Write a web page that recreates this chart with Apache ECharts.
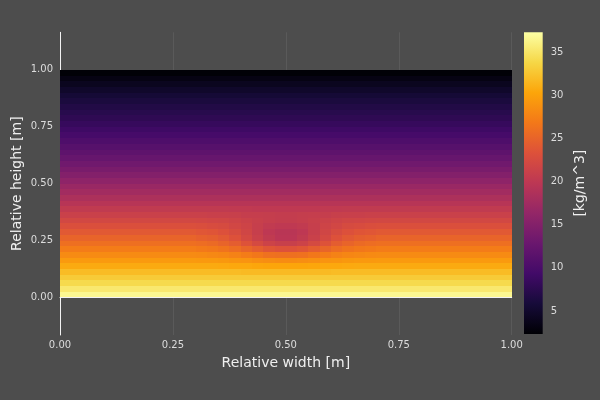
<!DOCTYPE html>
<html>
<head>
<meta charset="utf-8">
<script src="https://cdn.jsdelivr.net/npm/echarts@6/dist/echarts.min.js"></script>
<style>
html,body{margin:0;padding:0;background:#4d4d4d;}
#chart{width:600px;height:400px;}
</style>
</head>
<body>
<div id="chart"></div>
<script>
// ---- data ----
const xCenters = [0.0125,0.0375,0.0625,0.0875,0.1125,0.1375,0.1625,0.1875,0.2125,0.2375,
  0.2625,0.2875,0.3125,0.3375,0.3625,0.3875,0.4125,0.4375,0.4625,0.4875,
  0.5125,0.5375,0.5625,0.5875,0.6125,0.6375,0.6625,0.6875,0.7125,0.7375,
  0.7625,0.7875,0.8125,0.8375,0.8625,0.8875,0.9125,0.9375,0.9625,0.9875];
const yCenters = [0.0125,0.0375,0.0625,0.0875,0.1125,0.1375,0.1625,0.1875,0.2125,0.2375,
  0.2625,0.2875,0.3125,0.3375,0.3625,0.3875,0.4125,0.4375,0.4625,0.4875,
  0.5125,0.5375,0.5625,0.5875,0.6125,0.6375,0.6625,0.6875,0.7125,0.7375,
  0.7625,0.7875,0.8125,0.8375,0.8625,0.8875,0.9125,0.9375,0.9625,0.9875];
// density per row (bottom to top) away from the central bubble
const rowDensity = [36.6,35.3,34.1,33.0,31.9,30.7,29.5,28.3,27.1,26.0,
  25.0,24.0,23.0,22.1,21.2,20.3,19.4,18.5,17.6,16.8,
  15.9,15.0,14.1,13.3,12.5,11.8,11.1,10.4,9.7,9.0,
  8.4,7.8,7.3,6.8,6.2,5.6,4.9,4.1,3.3,2.5];
// bubble region: rows 4..15, columns 12..27
const bubbleRowStart = 4;
const bubbleColStart = 12;
const bubbleRows = [
  [31.9,31.9,31.9,31.9,31.8,31.8,31.8,31.8,31.8,31.8,31.8,31.8,31.9,31.9,31.9,31.9],
  [30.7,30.7,30.6,30.5,30.5,30.4,30.3,30.3,30.3,30.3,30.4,30.5,30.5,30.6,30.7,30.7],
  [29.4,29.4,29.3,29.1,29.0,28.7,28.5,28.4,28.4,28.5,28.7,29.0,29.1,29.3,29.4,29.4],
  [28.2,28.1,27.9,27.6,27.1,26.7,26.2,26.1,26.1,26.2,26.7,27.1,27.6,27.9,28.1,28.2],
  [26.9,26.7,26.4,25.8,25.1,24.4,23.7,23.3,23.3,23.7,24.4,25.1,25.8,26.4,26.7,26.9],
  [25.8,25.6,25.0,24.4,23.4,22.4,21.5,21.0,21.0,21.5,22.4,23.4,24.4,25.0,25.6,25.8],
  [24.7,24.5,24.0,23.3,22.3,21.2,20.3,19.7,19.7,20.3,21.2,22.3,23.3,24.0,24.5,24.7],
  [23.8,23.6,23.2,22.6,21.8,20.9,20.0,19.6,19.6,20.0,20.9,21.8,22.6,23.2,23.6,23.8],
  [22.9,22.7,22.5,22.0,21.6,20.9,20.4,20.1,20.1,20.4,20.9,21.6,22.0,22.5,22.7,22.9],
  [22.0,21.9,21.8,21.6,21.3,21.0,20.8,20.6,20.6,20.8,21.0,21.3,21.6,21.8,21.9,22.0],
  [21.2,21.1,21.1,21.0,20.8,20.8,20.7,20.6,20.6,20.7,20.8,20.8,21.0,21.1,21.1,21.2],
  [20.3,20.3,20.3,20.2,20.2,20.1,20.1,20.1,20.1,20.1,20.1,20.2,20.2,20.3,20.3,20.3]
];
const xTicks = [0, 0.25, 0.5, 0.75, 1];
const yTicks = [0, 0.25, 0.5, 0.75, 1];
const cbTicks = [5, 10, 15, 20, 25, 30, 35];
const cbMin = 2.33, cbMax = 37.32;
const infernoColors = ['#000004','#160b39','#420a68','#6a176e','#932667','#bc3754',
  '#dd513a','#f37819','#fca50a','#f6d746','#fcffa4'];

// ---- build table ----
const cells = [];
for (let r = 0; r < yCenters.length; r++) {
  for (let c = 0; c < xCenters.length; c++) {
    let v = rowDensity[r];
    const br = r - bubbleRowStart, bc = c - bubbleColStart;
    if (br >= 0 && br < bubbleRows.length && bc >= 0 && bc < bubbleRows[br].length) {
      v = bubbleRows[br][bc];
    }
    cells.push([xCenters[c], yCenters[r], v]);
  }
}
const halfW = (xCenters[1] - xCenters[0]) / 2;
const halfH = (yCenters[1] - yCenters[0]) / 2;

const txt = '#dcdcdc';
const ttl = '#efefef';
const axisCol = '#f2f2f2';
const font = 'DejaVu Sans';

const chart = echarts.init(document.getElementById('chart'), null, {renderer: 'canvas'});
chart.setOption({
  backgroundColor: '#4d4d4d',
  animation: false,
  textStyle: {fontFamily: font},
  grid: [
    {left: 60, right: 88.3, top: 32.3, bottom: 65, outerBoundsMode: 'none', containLabel: false},
    {left: 524, width: 18.7, top: 32.3, height: 301.7, outerBoundsMode: 'none', containLabel: false}
  ],
  xAxis: [
    {
      type: 'value', gridIndex: 0, min: 0, max: 1, interval: 0.25,
      name: 'Relative width [m]', nameLocation: 'middle', nameGap: 21, nameMoveOverlap: false,
      nameTextStyle: {color: ttl, fontSize: 14, fontFamily: font},
      axisLine: {show: true, lineStyle: {color: axisCol, width: 1}},
      axisTick: {show: true, inside: true, length: 4, lineStyle: {color: axisCol}},
      axisLabel: {color: txt, fontSize: 10, margin: 5, fontFamily: font,
        formatter: v => v.toFixed(2)},
      splitLine: {show: true, lineStyle: {color: 'rgba(255,255,255,0.08)', width: 1}}
    },
    {type: 'value', gridIndex: 1, min: 0, max: 1, show: false}
  ],
  yAxis: [
    {
      type: 'value', gridIndex: 0, min: -0.165, max: 1.165,
      name: 'Relative height [m]', nameLocation: 'middle', nameGap: 36, nameMoveOverlap: false,
      nameTextStyle: {color: ttl, fontSize: 14, fontFamily: font},
      axisLine: {show: true, onZero: false, lineStyle: {color: axisCol, width: 1}},
      axisTick: {show: true, inside: true, length: 5, customValues: yTicks, lineStyle: {color: axisCol}},
      axisLabel: {color: txt, fontSize: 10, margin: 7, fontFamily: font,
        customValues: yTicks, formatter: v => v.toFixed(2)},
      splitLine: {show: false}
    },
    {
      type: 'value', gridIndex: 1, min: cbMin, max: cbMax, position: 'right',
      name: '[kg/m^3]', nameLocation: 'middle', nameGap: 31, nameRotate: 90, nameMoveOverlap: false,
      nameTextStyle: {color: ttl, fontSize: 14, fontFamily: font},
      axisLine: {show: false},
      axisTick: {show: true, inside: false, length: 4, customValues: cbTicks, lineStyle: {color: txt}},
      axisLabel: {color: txt, fontSize: 10, margin: 8, fontFamily: font, customValues: cbTicks},
      splitLine: {show: false}
    }
  ],
  visualMap: {
    type: 'continuous', show: false, seriesIndex: 0, dimension: 2,
    min: cbMin, max: cbMax, inRange: {color: infernoColors}
  },
  series: [
    {
      type: 'custom', xAxisIndex: 0, yAxisIndex: 0,
      data: cells,
      encode: {x: 0, y: 1},
      renderItem: function (params, api) {
        const x = api.value(0), y = api.value(1);
        const p0 = api.coord([x - halfW, y + halfH]);
        const p1 = api.coord([x + halfW, y - halfH]);
        const x0 = Math.round(p0[0]), x1 = Math.round(p1[0]);
        const y0 = Math.round(p0[1]), y1 = Math.round(p1[1]);
        return {
          type: 'rect',
          shape: {x: x0, y: y0, width: x1 - x0, height: y1 - y0},
          style: {fill: api.visual('color')}
        };
      }
    },
    {
      type: 'custom', xAxisIndex: 1, yAxisIndex: 1,
      data: [[0.5, (cbMin + cbMax) / 2]],
      renderItem: function (params, api) {
        const p0 = api.coord([0, cbMax]);
        const p1 = api.coord([1, cbMin]);
        const stops = infernoColors.map((c, i) => ({offset: i / (infernoColors.length - 1), color: c}));
        return {
          type: 'rect',
          shape: {x: p0[0], y: p0[1], width: p1[0] - p0[0], height: p1[1] - p0[1]},
          style: {fill: new echarts.graphic.LinearGradient(0, 1, 0, 0, stops)}
        };
      }
    }
  ]
});
</script>
</body>
</html>
